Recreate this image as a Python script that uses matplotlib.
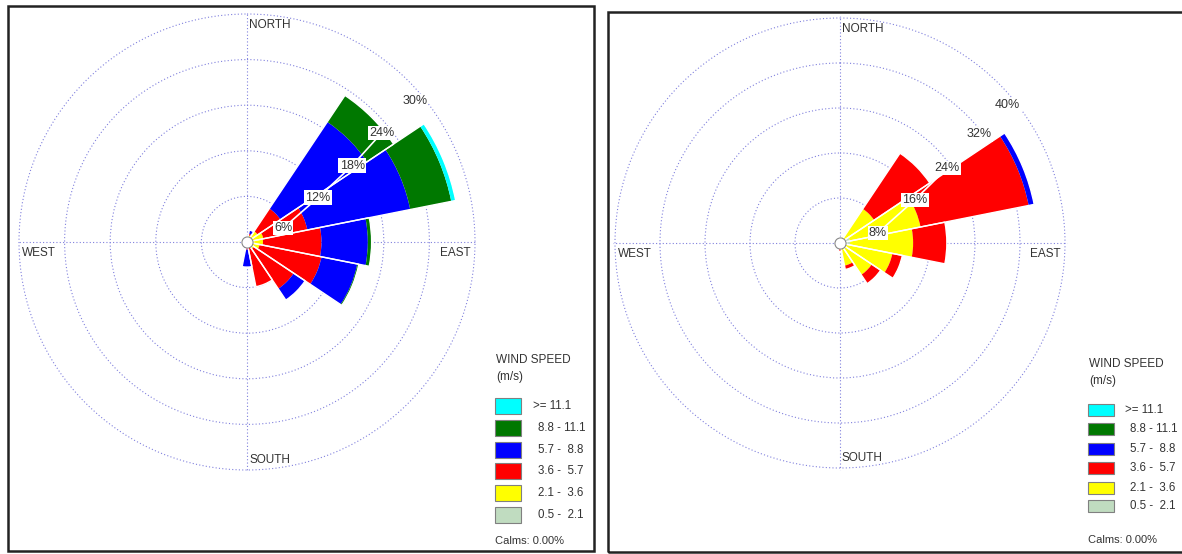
import numpy as np
import matplotlib
matplotlib.use("Agg")
import matplotlib.pyplot as plt
from matplotlib.patches import Rectangle

W, H = 1182, 554

# 16 compass directions, N clockwise
directions = ["N", "NNE", "NE", "ENE", "E", "ESE", "SE", "SSE",
              "S", "SSW", "SW", "WSW", "W", "WNW", "NW", "NNW"]

speed_classes = [">= 11.1", "8.8 - 11.1", "5.7 -  8.8", "3.6 -  5.7", "2.1 -  3.6", "0.5 -  2.1"]
class_colors = ["#00ffff", "#007800", "#0000ff", "#ff0000", "#ffff00", "#c0dcc0"]

# frequency (%) per class, from calmest class outward
left_calm = [0.1, 0.2, 0.3, 0.3, 0.3, 0.3, 0.2, 0.2, 0.2, 0.1, 0, 0, 0, 0, 0, 0]
left_21_36 = [0.2, 0.7, 1.4, 1.9, 1.8, 1.4, 0.9, 0.6, 0.3, 0.1, 0, 0, 0, 0, 0, 0]
left_36_57 = [0.1, 0.2, 3.6, 5.9, 7.7, 8.3, 6.3, 5.2, 0.5, 0.2, 0, 0, 0, 0, 0, 0]
left_57_88 = [0.4, 0.5, 13.7, 13.8, 6.1, 4.8, 1.8, 0.0, 2.3, 0.5, 0, 0, 0, 0, 0, 0]
left_88_111 = [0, 0, 4.2, 5.5, 0.5, 0.2, 0, 0, 0, 0, 0, 0, 0, 0, 0, 0]
left_111 = [0, 0, 0, 0.6, 0, 0, 0, 0, 0, 0, 0, 0, 0, 0, 0, 0]

right_calm = [0.2, 0.5, 0.8, 1.8, 1.8, 1.0, 0.6, 0.4, 0.3, 0, 0, 0, 0, 0, 0, 0]
right_21_36 = [0.3, 0.7, 6.5, 12.8, 11.2, 8.5, 6.2, 3.7, 0.5, 0, 0, 0, 0, 0, 0, 0]
right_36_57 = [0, 0, 11.9, 19.6, 6.0, 1.8, 1.9, 0.7, 0.7, 0, 0, 0, 0, 0, 0, 0]
right_57_88 = [0, 0, 0, 1.0, 0, 0, 0, 0, 0, 0, 0, 0, 0, 0, 0, 0]
right_88_111 = [0] * 16
right_111 = [0] * 16

left_rings = [6, 12, 18, 24, 30]
right_rings = [8, 16, 24, 32, 40]

grid_color = "#8080dd"
text_color = "#333333"
PAD = 1.01  # little headroom so the outer ring is not clipped


def fx(x):
    return x / W


def fy(y):
    return 1 - y / H


def draw_rose(cx, cy, R, series, rings, label_pos):
    Rp = R * PAD
    ax = fig.add_axes([fx(cx - Rp), fy(cy + Rp), 2 * Rp / W, 2 * Rp / H],
                      projection="polar")
    ax.set_theta_zero_location("N")
    ax.set_theta_direction(-1)
    ax.set_axisbelow(True)
    theta = np.deg2rad(np.arange(16) * 22.5)
    width = np.deg2rad(22.5)

    bottom = np.zeros(16)
    # series given from calm class outward; colours reversed accordingly
    for vals, color in zip(series, class_colors[::-1]):
        vals = np.array(vals, dtype=float)
        ax.bar(theta, vals, width=width, bottom=bottom, color=color,
               edgecolor="none", linewidth=0, zorder=2)
        bottom += vals
    # white separators between sectors
    ax.bar(theta, bottom, width=width, fill=False, edgecolor="white",
           linewidth=1.0, zorder=3)

    ax.set_ylim(0, rings[-1] * PAD)
    ax.set_rgrids(rings, labels=[""] * len(rings))
    ax.set_thetagrids([0, 90, 180, 270], labels=[""] * 4)
    ax.grid(True, color=grid_color, linestyle=(0, (1, 2)), linewidth=0.8)
    ax.spines["polar"].set_visible(False)
    ax.patch.set_alpha(0)

    # ring labels with white boxes along a connector line
    angs = [np.deg2rad(a) for a, f in label_pos]
    rads = [r * f for r, (a, f) in zip(rings, label_pos)]
    ax.plot(angs, rads, color="white", lw=1.2, zorder=4)
    for a, r, ring in zip(angs, rads, rings):
        ax.text(a, r, f"{ring}%", ha="center", va="center", fontsize=9,
                color=text_color, zorder=5,
                bbox=dict(fc="white", ec="none", pad=0.8))
    # calm circle at centre
    ax.plot([0], [0], "o", ms=8, mfc="white", mec="#888888", mew=0.8,
            zorder=6, clip_on=False)

    fs = 8.5
    fig.text(fx(cx + 2), fy(cy - R + 11), "NORTH", fontsize=fs, color=text_color, ha="left", va="center")
    fig.text(fx(cx + 2), fy(cy + R - 10), "SOUTH", fontsize=fs, color=text_color, ha="left", va="center")
    fig.text(fx(cx - R + 3), fy(cy + 11), "WEST", fontsize=fs, color=text_color, ha="left", va="center")
    fig.text(fx(cx + R - 4), fy(cy + 11), "EAST", fontsize=fs, color=text_color, ha="right", va="center")
    return ax


def draw_legend(x0, y_title, tops, sw_w, sw_h, text_x, calm_y):
    fig.text(fx(x0 + 1), fy(y_title), "WIND SPEED", fontsize=8.5,
             color=text_color, va="center", ha="left")
    fig.text(fx(x0 + 1), fy(y_title + 17), "(m/s)", fontsize=8.5,
             color=text_color, va="center", ha="left")
    for i, (label, color) in enumerate(zip(speed_classes, class_colors)):
        top = tops[i]
        fig.patches.append(Rectangle((fx(x0), fy(top + sw_h)), sw_w / W, sw_h / H,
                                     transform=fig.transFigure, fc=color,
                                     ec="#808080", lw=0.8))
        tx = text_x - 5 if i == 0 else text_x
        fig.text(fx(tx), fy(top + sw_h / 2), label, fontsize=8.3,
                 color=text_color, va="center", ha="left")
    fig.text(fx(x0), fy(calm_y), "Calms: 0.00%", fontsize=8,
             color=text_color, va="center", ha="left")


plt.rcParams["font.family"] = ["Liberation Sans", "DejaVu Sans"]
fig = plt.figure(figsize=(W / 100, H / 100), dpi=100)

# panel frames
for (x0, y0, x1, y1) in [(8, 6, 594, 551), (608, 12, 1195, 552)]:
    fig.patches.append(Rectangle((fx(x0), fy(y1)), (x1 - x0) / W, (y1 - y0) / H,
                                 transform=fig.transFigure, fill=False,
                                 ec="#222222", lw=1.8))

# left rose: centre (247, 242), radius 228 px
draw_rose(247, 242, 228,
          [left_calm, left_21_36, left_36_57, left_57_88, left_88_111, left_111],
          left_rings,
          [(69, 0.85), (58, 0.92), (54, 0.95), (51, 0.95), (50, 0.96)])

# right rose: centre (840, 243), radius 225 px
draw_rose(840, 243, 225,
          [right_calm, right_21_36, right_36_57, right_57_88, right_88_111, right_111],
          right_rings,
          [(75, 0.87), (60, 0.96), (55, 0.97), (52, 0.98), (50.6, 0.965)])

draw_legend(495, 360, [398, 420, 442, 463, 485, 507], 26, 16, 538, 541)
draw_legend(1088, 364, [404, 423, 443, 462, 482, 500], 26, 12, 1130, 540)

fig.savefig("out.png", dpi=100)
